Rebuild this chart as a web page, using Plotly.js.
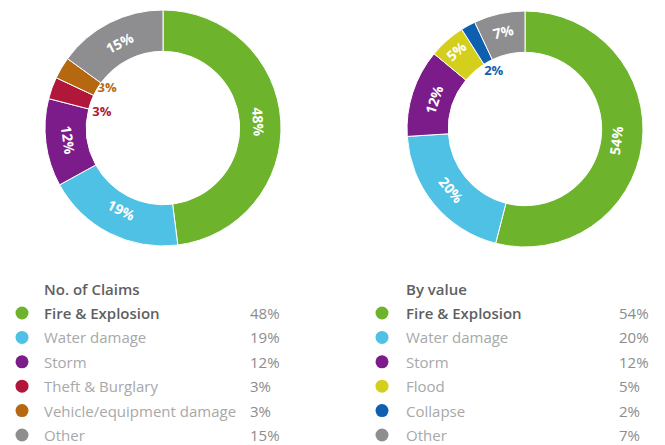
<!DOCTYPE html>
<html>
<head>
<meta charset="utf-8">
<script src="https://cdn.plot.ly/plotly-3.0.1.min.js"></script>
<style>html,body{margin:0;padding:0;background:#fff}#chart{width:665px;height:445px}</style>
</head>
<body>
<div id="chart"></div>
<script>
// ---- data ----
const claimsTitle = "No. of Claims";
const claimsLabels = ["Fire & Explosion", "Water damage", "Storm", "Theft & Burglary", "Vehicle/equipment damage", "Other"];
const claimsValues = [48, 19, 12, 3, 3, 15];
const claimsColors = ["#6db42c", "#4fc1e4", "#7b1c8a", "#b0173a", "#b5680f", "#8e8e90"];

const valueTitle = "By value";
const valueLabels = ["Fire & Explosion", "Water damage", "Storm", "Flood", "Collapse", "Other"];
const valueValues = [54, 20, 12, 5, 2, 7];
const valueColors = ["#6db42c", "#4fc1e4", "#7b1c8a", "#d4cf1d", "#0f5fb0", "#8e8e90"];

// ---- layout constants ----
const W = 665, H = 445;
const FONT = "Open Sans, Noto Sans, sans-serif";
const SMALL = 4; // slices below this share get their label in the hole
const HOLE = 0.65;
const PAD = "\u00a0\u00a0\u00a0\u00a0\u00a0";

function pieDomain(cx, cy, r) {
  return {x: [(cx - r) / W, (cx + r) / W], y: [1 - (cy + r) / H, 1 - (cy - r) / H]};
}
const domLeft = pieDomain(163, 128, 118);
const domRight = pieDomain(525, 129, 118);

function pct(v) { return v + "%"; }

function pieTrace(values, labels, colors, dom) {
  const total = values.reduce((a, b) => a + b, 0);
  let cum = 0;
  const txt = values.map(v => {
    const start = cum; cum += v;
    if (v < SMALL) return "";
    // keep the label of a slice that straddles the bottom at its own middle
    const straddles = start < total / 2 && cum > total / 2;
    return straddles ? PAD + pct(v) + PAD : pct(v);
  });
  return {
    type: "pie", values: values, labels: labels, sort: false,
    direction: "clockwise", rotation: 0, hole: HOLE, domain: dom,
    marker: {colors: colors, line: {color: "#ffffff", width: 1}},
    text: txt,
    textinfo: "text", textposition: "inside", insidetextorientation: "tangential",
    textfont: {color: "#ffffff", size: 14, family: FONT, weight: 700},
    hoverinfo: "skip", showlegend: false
  };
}

function smallLabelTrace(values, colors, polarId) {
  const total = values.reduce((a, b) => a + b, 0);
  const theta = [], txt = [], col = [];
  let cum = 0;
  values.forEach((v, i) => {
    if (v < SMALL) {
      theta.push((cum + v / 2) / total * 360);
      txt.push(pct(v));
      col.push(colors[i]);
    }
    cum += v;
  });
  const pos = txt.map((t, i) => txt.length === 1 ? "middle center" : (i === 0 ? "bottom center" : "top center"));
  return {
    type: "scatterpolar", subplot: polarId, mode: "text",
    r: theta.map(() => 0.55), theta: theta, text: txt, textposition: pos,
    textfont: {color: col, size: 13, family: FONT, weight: 700},
    hoverinfo: "skip", showlegend: false, cliponaxis: false
  };
}

function legendTraces(colors, dotX) {
  return {
    type: "scatter", mode: "markers", x: colors.map(() => dotX), y: colors.map((c, i) => i),
    marker: {color: colors, size: 13}, hoverinfo: "skip", showlegend: false
  };
}

const LEG_SIZE = 15;
function legendAnnotations(title, labels, values, labelX, valX) {
  const anns = [{
    text: title, x: labelX, y: -1, xref: "x", yref: "y", xanchor: "left", yanchor: "middle",
    showarrow: false, font: {family: FONT, size: LEG_SIZE, color: "#606060", weight: 600}
  }];
  labels.forEach((lab, i) => {
    anns.push({
      text: lab, x: labelX, y: i, xref: "x", yref: "y", xanchor: "left", yanchor: "middle",
      showarrow: false,
      font: {family: FONT, size: LEG_SIZE, color: i === 0 ? "#5f5f5f" : "#a8a8a8", weight: i === 0 ? 600 : 400}
    });
    anns.push({
      text: pct(values[i]), x: valX, y: i, xref: "x", yref: "y", xanchor: "left", yanchor: "middle",
      showarrow: false, font: {family: FONT, size: LEG_SIZE, color: "#8c8c8c"}
    });
  });
  return anns;
}

const polarCommon = {
  bgcolor: "rgba(0,0,0,0)",
  radialaxis: {visible: false, range: [0, 1]},
  angularaxis: {visible: false, direction: "clockwise", rotation: 90}
};

const data = [
  pieTrace(claimsValues, claimsLabels, claimsColors, domLeft),
  pieTrace(valueValues, valueLabels, valueColors, domRight),
  smallLabelTrace(claimsValues, claimsColors, "polar"),
  smallLabelTrace(valueValues, valueColors, "polar2"),
  legendTraces(claimsColors, 22),
  legendTraces(valueColors, 382)
];

const ROW0 = 313, ROWSTEP = 24.4;
const layout = {
  width: W, height: H, margin: {l: 0, r: 0, t: 0, b: 0},
  paper_bgcolor: "#ffffff", plot_bgcolor: "rgba(0,0,0,0)",
  showlegend: false,
  font: {family: FONT},
  polar: Object.assign({domain: domLeft}, polarCommon),
  polar2: Object.assign({domain: domRight}, polarCommon),
  xaxis: {domain: [0, 1], range: [0, W], visible: false, fixedrange: true},
  yaxis: {domain: [0, 0.4], range: [(H - ROW0) / ROWSTEP, (0.6 * H - ROW0) / ROWSTEP], visible: false, fixedrange: true},
  annotations: legendAnnotations(claimsTitle, claimsLabels, claimsValues, 42, 248)
    .concat(legendAnnotations(valueTitle, valueLabels, valueValues, 404, 617))
};

Plotly.newPlot("chart", data, layout, {displayModeBar: false, staticPlot: true});
</script>
</body>
</html>
